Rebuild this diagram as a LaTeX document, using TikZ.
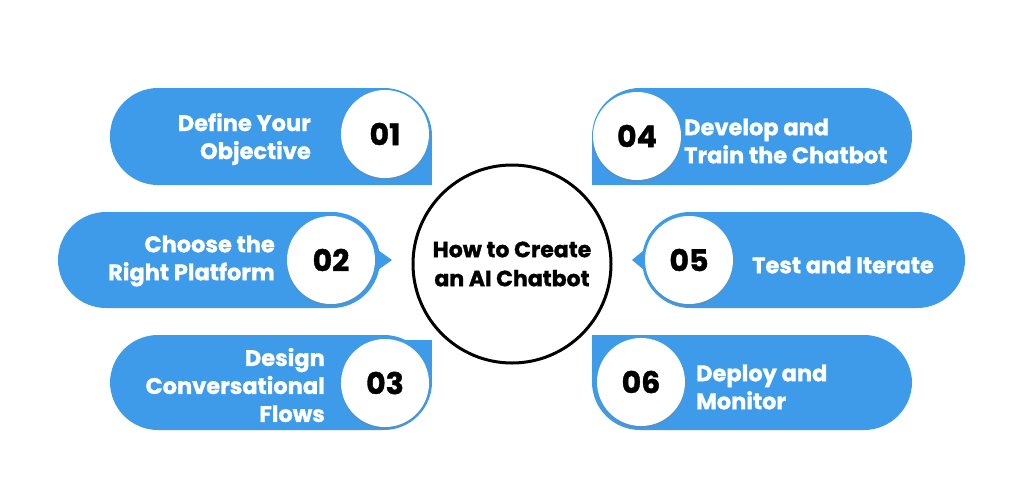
\documentclass[tikz,border=0pt]{standalone}
\usepackage{fontspec}
\setmainfont{Poppins}[BoldFeatures={FakeBold=1.2}]
\usetikzlibrary{shadows}
\definecolor{pill}{HTML}{3D9BEA}
\begin{document}
\begin{tikzpicture}[x=1pt,y=-1pt,
  pillf/.style={fill=pill},
  num/.style={circle,fill=white,minimum size=88pt,inner sep=0pt,font=\fontsize{30}{30}\selectfont\bfseries,
     drop shadow={shadow xshift=0pt,shadow yshift=-2pt,opacity=0.35,fill=gray}},
  lbl/.style={text=white,font=\fontsize{22.5}{28}\selectfont\bfseries,inner sep=0pt}]
\useasboundingbox (0,0) rectangle (1024,496);
% pill 1
\fill[pillf,rounded corners=48] (110,88) rectangle (432,185);
\fill[pillf] (384,137) rectangle (432,185);
% pill 2
\fill[pillf,rounded corners=48] (58,212) rectangle (380,308);
\fill[pillf] (378,250) -- (392,260) -- (378,270) -- cycle;
% pill 3
\fill[pillf,rounded corners=48] (110,335) rectangle (432,430);
\fill[pillf] (384,340) rectangle (432,383);
% pill 4
\fill[pillf,rounded corners=48] (592,88) rectangle (912,185);
\fill[pillf] (592,137) rectangle (640,185);
% pill 5
\fill[pillf,rounded corners=48] (642,212) rectangle (965,308);
\fill[pillf] (644,250) -- (632,260) -- (644,270) -- cycle;
% pill 6
\fill[pillf,rounded corners=48] (592,335) rectangle (912,430);
\fill[pillf] (592,335) rectangle (640,383);
% numbers
\node[num] (n1) at (385,134) {01};
\node[num] (n2) at (331,260) {02};
\node[num] (n3) at (385,383) {03};
\node[num] (n4) at (637,136) {04};
\node[num] (n5) at (689,260) {05};
\node[num] (n6) at (641,382) {06};
% labels
\node[lbl,anchor=east,align=right] (t1) at (311,139) {Define Your\\Objective};
\node[lbl,anchor=east,align=right] (t2) at (275,261) {Choose the\\Right Platform};
\node[lbl,anchor=east,align=right] (t3) at (325,385) {Design\\Conversational\\Flows};
\node[lbl,anchor=west,align=left] (t4) at (684,141) {Develop and\\Train the Chatbot};
\node[lbl,anchor=west,align=left] (t5) at (752,265) {Test and Iterate};
\node[lbl,anchor=west,align=left] (t6) at (696,387) {Deploy and\\Monitor};
% center
\node[circle,draw=black,line width=3pt,minimum size=198pt,align=center,
  font=\fontsize{22}{29}\selectfont\bfseries] (c) at (512,264) {How to Create\\an AI Chatbot};
\end{tikzpicture}
\end{document}
